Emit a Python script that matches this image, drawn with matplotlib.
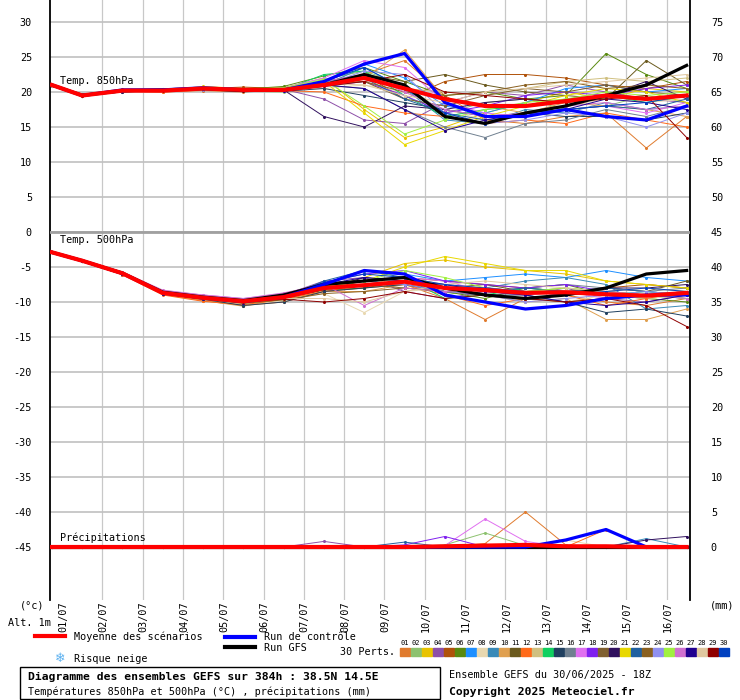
import matplotlib
matplotlib.use("Agg")
import matplotlib.pyplot as plt
from matplotlib.patches import Rectangle

# time axis in days since 01/07 00Z (first point 30/06 18Z)
times = [-0.25, 0.5, 1.5, 2.5, 3.5, 4.5, 5.5, 6.5, 7.5, 8.5, 9.5, 10.5, 11.5, 12.5, 13.5, 14.5, 15.5]
dates = ["01/07", "02/07", "03/07", "04/07", "05/07", "06/07", "07/07", "08/07",
         "09/07", "10/07", "11/07", "12/07", "13/07", "14/07", "15/07", "16/07"]

mean_850 = [21, 19.5, 20.2, 20.2, 20.5, 20.3, 20.3, 21, 22, 20.5, 19, 18, 18, 18.7, 19.5, 19, 19.5]
ctrl_850 = [21, 19.5, 20.3, 20.3, 20.6, 20.3, 20.3, 21.5, 24, 25.5, 18.5, 16.5, 16.5, 17.5, 16.5, 16, 18]
gfs_850 = [21, 19.5, 20.2, 20.3, 20.5, 20.2, 20.3, 21, 22.5, 21, 16.5, 15.5, 17, 18, 19.5, 21, 23.8]

mean_500 = [-2.9, -4.1, -5.9, -8.7, -9.4, -9.9, -9.3, -8.0, -7.6, -7.1, -8.0, -8.3, -8.7, -8.6, -8.9, -9.1, -8.7]
ctrl_500 = [-2.9, -4.1, -5.9, -8.7, -9.4, -9.9, -9.3, -7.5, -5.5, -6.0, -9.0, -10.0, -11.0, -10.5, -9.5, -9.0, -9.0]
gfs_500 = [-2.9, -4.1, -5.9, -8.6, -9.3, -9.8, -9.0, -7.5, -7.0, -6.5, -8.0, -9.0, -9.5, -9.0, -8.0, -6.0, -5.5]

mean_pr = [0, 0, 0, 0, 0, 0, 0, 0, 0, 0, 0.1, 0.2, 0.3, 0.1, 0.1, 0, 0]
ctrl_pr = [0, 0, 0, 0, 0, 0, 0, 0, 0, 0, 0, 0, 0, 1.0, 2.5, 0, 0]
gfs_pr = [0] * 17

members_850 = [
    [21.0, 19.6, 20.1, 20.0, 20.2, 20.0, 20.5, 21.2, 22.5, 24.5, 19.5, 16.0, 15.5, 16.5, 17.0, 12.0, 16.5],
    [21.0, 19.4, 20.3, 20.4, 20.6, 20.1, 20.0, 21.8, 23.0, 21.0, 17.0, 18.5, 19.0, 17.5, 18.0, 19.5, 18.5],
    [21.0, 19.7, 20.0, 20.2, 20.8, 20.5, 20.6, 22.0, 17.5, 13.5, 15.0, 17.0, 18.5, 20.0, 19.0, 20.5, 20.0],
    [20.9, 19.5, 20.2, 20.1, 20.4, 20.2, 20.4, 19.0, 16.0, 15.5, 18.5, 20.0, 19.5, 21.0, 20.0, 19.0, 18.5],
    [21.0, 19.6, 20.4, 20.3, 20.5, 20.7, 20.5, 21.0, 22.5, 19.0, 21.5, 22.5, 22.5, 22.0, 21.0, 20.5, 21.5],
    [21.0, 19.5, 20.1, 20.3, 20.6, 20.4, 20.8, 22.3, 23.5, 21.5, 19.5, 20.0, 19.0, 19.5, 25.5, 22.5, 20.5],
    [21.0, 19.4, 20.2, 20.2, 20.3, 20.1, 20.2, 21.5, 24.0, 22.0, 18.0, 17.0, 18.5, 20.5, 21.0, 20.0, 20.5],
    [21.0, 19.6, 20.3, 20.1, 20.4, 20.5, 20.4, 20.5, 21.0, 20.0, 17.5, 16.0, 17.0, 18.0, 19.0, 18.5, 19.0],
    [20.9, 19.5, 20.0, 20.2, 20.6, 20.3, 20.1, 21.0, 23.5, 20.5, 16.0, 15.5, 17.5, 17.0, 18.5, 17.5, 18.0],
    [21.0, 19.7, 20.2, 20.3, 20.5, 20.2, 20.3, 21.3, 22.0, 26.0, 19.0, 18.0, 17.0, 18.5, 18.0, 17.5, 16.5],
    [21.0, 19.5, 20.3, 20.4, 20.4, 20.2, 20.6, 21.5, 22.5, 21.5, 22.5, 21.0, 20.0, 19.5, 19.0, 24.5, 21.0],
    [21.0, 19.6, 20.1, 20.0, 20.3, 20.4, 20.2, 20.0, 18.0, 17.0, 16.5, 15.5, 16.0, 15.5, 17.0, 16.0, 15.0],
    [21.0, 19.5, 20.2, 20.3, 20.5, 20.3, 20.5, 21.0, 22.0, 20.5, 20.0, 19.5, 20.5, 21.5, 22.0, 21.5, 22.0],
    [21.0, 19.4, 20.2, 20.2, 20.6, 20.2, 20.3, 22.5, 23.0, 19.5, 16.5, 17.5, 18.0, 19.0, 19.5, 18.5, 19.5],
    [20.9, 19.6, 20.3, 20.2, 20.4, 20.3, 20.1, 20.5, 19.5, 18.5, 17.5, 16.5, 17.0, 16.5, 16.5, 16.0, 17.0],
    [21.0, 19.5, 20.1, 20.3, 20.5, 20.4, 20.3, 21.0, 20.5, 17.5, 15.0, 13.5, 15.5, 16.0, 17.5, 16.5, 18.0],
    [21.0, 19.6, 20.2, 20.2, 20.4, 20.2, 20.6, 22.0, 24.5, 23.5, 18.5, 17.0, 16.5, 17.5, 18.0, 17.0, 18.5],
    [21.0, 19.5, 20.3, 20.1, 20.5, 20.3, 20.2, 20.8, 21.5, 19.5, 17.0, 18.0, 19.5, 20.0, 19.5, 20.5, 21.0],
    [21.0, 19.7, 20.2, 20.3, 20.3, 20.5, 20.4, 21.2, 21.5, 19.0, 18.0, 19.5, 20.5, 20.0, 21.0, 20.0, 19.5],
    [21.0, 19.5, 20.0, 20.2, 20.5, 20.3, 20.3, 16.5, 15.0, 18.0, 17.5, 18.5, 19.0, 18.5, 19.5, 21.5, 19.0],
    [21.0, 19.6, 20.3, 20.2, 20.6, 20.2, 20.5, 21.5, 17.0, 12.5, 14.5, 16.5, 18.0, 19.5, 20.5, 20.0, 18.5],
    [20.9, 19.5, 20.2, 20.3, 20.4, 20.4, 20.4, 21.5, 22.0, 19.0, 17.0, 16.0, 16.5, 17.5, 18.0, 17.5, 19.0],
    [21.0, 19.4, 20.1, 20.2, 20.5, 20.1, 20.3, 21.0, 21.5, 20.0, 19.5, 20.0, 21.0, 21.5, 20.5, 21.0, 20.5],
    [21.0, 19.6, 20.2, 20.4, 20.3, 20.3, 20.2, 21.0, 23.0, 22.5, 17.0, 15.5, 16.0, 17.0, 16.5, 15.0, 17.0],
    [21.0, 19.5, 20.3, 20.2, 20.5, 20.4, 20.6, 21.8, 18.0, 14.0, 16.0, 17.5, 18.5, 19.0, 20.0, 19.5, 20.0],
    [21.0, 19.5, 20.1, 20.2, 20.6, 20.2, 20.4, 21.5, 22.5, 20.0, 17.5, 16.5, 17.0, 18.0, 18.5, 17.5, 18.0],
    [21.0, 19.6, 20.2, 20.3, 20.4, 20.3, 20.1, 21.0, 20.5, 17.5, 14.5, 16.0, 17.0, 17.5, 19.0, 18.5, 17.5],
    [20.9, 19.5, 20.3, 20.2, 20.5, 20.5, 20.3, 21.2, 21.0, 19.5, 18.5, 20.0, 20.5, 21.0, 21.5, 22.0, 22.5],
    [21.0, 19.5, 20.2, 20.1, 20.5, 20.2, 20.4, 20.8, 21.5, 22.5, 20.0, 19.5, 19.0, 18.5, 19.0, 19.5, 13.5],
    [21.0, 19.6, 20.2, 20.3, 20.4, 20.3, 20.3, 21.5, 23.5, 20.5, 17.0, 15.5, 17.0, 17.5, 18.0, 18.5, 19.5],
]

members_500 = [
    [-2.9, -4.2, -6.0, -8.9, -9.8, -10.5, -10.0, -8.5, -8.0, -7.5, -9.5, -12.5, -9.5, -9.0, -10.0, -10.5, -9.5],
    [-2.9, -4.0, -5.8, -8.5, -9.3, -9.8, -9.0, -7.5, -7.0, -6.5, -9.0, -8.0, -8.5, -8.0, -9.0, -9.5, -9.0],
    [-2.9, -4.1, -5.7, -8.4, -9.2, -9.6, -9.5, -8.0, -6.5, -4.5, -4.0, -5.0, -5.5, -6.0, -7.0, -7.5, -8.0],
    [-2.9, -4.2, -6.1, -8.8, -9.5, -10.2, -9.0, -7.0, -6.5, -8.5, -9.5, -8.5, -9.0, -8.0, -9.5, -10.0, -9.0],
    [-2.9, -4.1, -5.9, -8.6, -9.3, -9.7, -9.4, -8.2, -7.0, -6.5, -7.0, -7.5, -8.0, -8.5, -8.0, -7.5, -8.0],
    [-2.9, -4.0, -5.8, -8.7, -9.4, -10.0, -9.6, -8.3, -8.0, -7.0, -8.5, -9.5, -8.0, -7.5, -9.0, -9.5, -10.0],
    [-2.9, -4.1, -6.0, -8.7, -9.5, -9.9, -9.2, -7.5, -5.5, -6.0, -7.0, -6.5, -6.0, -6.5, -5.5, -6.5, -7.0],
    [-2.9, -4.2, -5.9, -8.8, -9.6, -10.3, -9.8, -8.8, -11.5, -8.5, -8.0, -9.0, -9.5, -10.0, -9.0, -9.5, -9.0],
    [-2.9, -4.1, -5.8, -8.6, -9.4, -10.0, -9.3, -7.8, -7.0, -7.5, -8.5, -8.0, -7.0, -6.5, -7.5, -11.0, -10.5],
    [-2.9, -4.1, -6.0, -8.9, -9.8, -10.6, -9.5, -8.5, -8.5, -7.5, -8.0, -9.0, -10.0, -9.5, -12.5, -12.5, -11.0],
    [-2.9, -4.0, -5.9, -8.6, -9.3, -9.8, -9.4, -8.0, -7.5, -7.0, -8.0, -7.5, -8.5, -9.0, -8.0, -8.5, -7.0],
    [-2.9, -4.2, -6.1, -9.0, -9.9, -10.4, -9.6, -8.5, -7.5, -7.5, -9.0, -10.5, -9.5, -9.0, -10.5, -9.5, -8.5],
    [-2.9, -4.1, -5.8, -8.7, -9.4, -9.9, -9.2, -8.0, -7.5, -6.5, -7.5, -8.0, -8.5, -8.0, -8.5, -8.0, -8.5],
    [-2.9, -4.0, -5.7, -8.5, -9.2, -9.7, -9.0, -7.8, -7.0, -6.5, -9.5, -9.0, -8.0, -8.5, -9.0, -8.5, -9.0],
    [-2.9, -4.1, -6.0, -8.8, -9.6, -10.5, -10.0, -8.5, -8.0, -7.5, -8.5, -9.0, -9.0, -10.0, -11.5, -11.0, -12.0],
    [-2.9, -4.2, -5.9, -8.7, -9.5, -10.0, -9.4, -8.0, -7.5, -7.0, -7.5, -8.5, -8.0, -7.5, -8.0, -8.5, -8.0],
    [-2.9, -4.1, -5.8, -8.4, -9.0, -9.5, -8.8, -7.5, -7.0, -6.5, -7.0, -8.5, -9.0, -8.5, -9.5, -9.0, -9.5],
    [-2.9, -4.0, -5.9, -8.6, -9.3, -9.8, -9.0, -7.2, -6.0, -5.5, -7.0, -7.5, -8.0, -7.5, -8.5, -9.0, -8.5],
    [-2.9, -4.1, -5.9, -8.7, -9.4, -9.9, -9.3, -8.0, -7.5, -8.0, -8.5, -9.0, -9.5, -9.0, -8.5, -9.0, -8.5],
    [-2.9, -4.2, -6.0, -8.8, -9.6, -10.1, -9.5, -8.2, -6.5, -7.0, -8.0, -8.0, -8.5, -9.0, -8.0, -8.0, -7.5],
    [-2.9, -4.0, -5.8, -8.5, -9.3, -9.8, -9.3, -7.8, -7.0, -5.0, -3.5, -4.5, -5.5, -5.5, -7.0, -7.5, -8.0],
    [-2.9, -4.1, -5.9, -8.7, -9.5, -10.0, -9.4, -7.0, -5.5, -6.5, -8.0, -8.5, -8.0, -8.5, -8.0, -8.5, -9.0],
    [-2.9, -4.1, -6.0, -8.8, -9.6, -10.2, -9.7, -8.8, -8.5, -8.0, -8.5, -9.0, -9.5, -10.0, -9.5, -9.0, -9.5],
    [-2.9, -4.1, -5.8, -8.6, -9.3, -9.8, -9.0, -7.5, -7.0, -7.5, -8.5, -9.0, -10.0, -9.5, -9.0, -8.5, -9.0],
    [-2.9, -4.0, -5.9, -8.6, -9.3, -9.9, -9.3, -7.8, -7.0, -5.5, -6.5, -8.0, -8.5, -8.0, -8.5, -9.0, -9.5],
    [-2.9, -4.1, -5.7, -8.3, -9.0, -9.5, -8.7, -7.5, -10.5, -8.0, -8.5, -8.0, -8.5, -9.0, -8.5, -9.0, -9.5],
    [-2.9, -4.2, -6.0, -8.8, -9.5, -10.1, -9.4, -7.5, -6.5, -7.0, -7.5, -8.5, -9.0, -10.0, -10.5, -10.0, -9.0],
    [-2.9, -4.1, -5.9, -8.7, -9.4, -10.0, -9.5, -9.5, -10.0, -8.5, -7.5, -7.0, -7.5, -8.0, -8.5, -8.0, -8.5],
    [-2.9, -4.0, -5.8, -8.6, -9.4, -10.0, -9.6, -10.0, -9.5, -8.5, -9.5, -9.0, -9.5, -10.0, -9.5, -10.5, -13.5],
    [-2.9, -4.1, -5.9, -8.7, -9.4, -9.9, -9.2, -7.2, -6.0, -6.5, -7.5, -8.0, -8.5, -9.0, -8.5, -8.0, -8.5],
]

# precipitation (mm), only the members that show some rain
precip_members = {
    1: [0, 0, 0, 0, 0, 0, 0, 0, 0, 0, 0, 0.5, 5.0, 0.3, 0, 0, 0],
    2: [0, 0, 0, 0, 0, 0, 0, 0, 0, 0, 0.3, 2.0, 0.2, 0, 0, 0, 0],
    4: [0, 0, 0, 0, 0, 0, 0, 0.8, 0, 0, 0, 0, 0, 0, 0, 0, 0],
    8: [0, 0, 0, 0, 0, 0, 0, 0, 0, 0, 0, 0, 0, 1.0, 0, 0, 0],
    9: [0, 0, 0, 0, 0, 0, 0, 0, 0, 0, 0, 0, 0, 0, 0, 1.2, 0],
    12: [0, 0, 0, 0, 0, 0, 0, 0, 0, 0, 0, 0, 0, 0, 2.5, 0, 0],
    17: [0, 0, 0, 0, 0, 0, 0, 0, 0, 0, 0.2, 4.0, 0.8, 0, 0, 0, 0],
    18: [0, 0, 0, 0, 0, 0, 0, 0, 0, 0.3, 1.5, 0, 0, 0, 0, 0, 0],
    20: [0, 0, 0, 0, 0, 0, 0, 0, 0, 0, 0, 0, 0, 0, 0, 1.0, 1.5],
    22: [0, 0, 0, 0, 0, 0, 0, 0, 0, 0.7, 0, 0, 0, 0, 0, 0, 0],
}

member_colors = ["#e07b2e", "#8dc26f", "#e8c300", "#8d4fa8", "#b0520a", "#5a8a10",
                 "#1e8fff", "#e8d8b0", "#3a8ab8", "#e0a050", "#6b5a1e", "#ff6a1a",
                 "#d0c080", "#10d060", "#204060", "#708090", "#e070f0", "#8020f0",
                 "#806030", "#30105e", "#e8d800", "#2060a0", "#8a6020", "#9090f0",
                 "#a0f040", "#d070d0", "#200090", "#e0c8a0", "#900000", "#0040c0"]

PR0 = -45  # precip baseline on the left scale
mono = "DejaVu Sans Mono"
fs = 7.3

fig = plt.figure(figsize=(7.4, 7.0), dpi=100)
W, H = 740.0, 700.0


def px(x, y):
    return x / W, 1 - y / H


ax = fig.add_axes([50 / W, 100 / H, 640 / W, 600 / H])
day_px = 40.3
x0 = -12 / day_px
ax.set_xlim(x0, x0 + 640 / day_px)
ylo = 0 - (600 - 232) / 7.0
yhi = 232 / 7.0
ax.set_ylim(ylo, yhi)

# grid
for d in range(1, 16):
    ax.axvline(d, color="#c8c8c8", lw=0.9, zorder=0)
for v in range(30, -45, -5):
    ax.axhline(v, color="#c0c0c0", lw=1.2, zorder=0)
ax.axhline(0, color="#a0a0a0", lw=2, zorder=5)

for i in range(30):
    c = member_colors[i]
    ax.plot(times, members_850[i], color=c, lw=0.7, marker="o", ms=1.2, zorder=2)
    ax.plot(times, members_500[i], color=c, lw=0.7, marker="o", ms=1.2, zorder=2)
for k, vals in precip_members.items():
    ax.plot(times, [PR0 + v for v in vals], color=member_colors[k - 1], lw=0.7,
            marker="o", ms=1.2, zorder=2)

for series, col, lw, z in [(gfs_850, "black", 2.3, 3), (ctrl_850, "blue", 2.3, 4), (mean_850, "red", 3, 6),
                           (gfs_500, "black", 2.3, 3), (ctrl_500, "blue", 2.3, 4), (mean_500, "red", 3, 6)]:
    ax.plot(times, series, color=col, lw=lw, zorder=z)
ax.plot(times, [PR0 + v for v in gfs_pr], color="black", lw=2.3, zorder=3)
ax.plot(times, [PR0 + v for v in ctrl_pr], color="blue", lw=2.3, zorder=4)
ax.plot(times, [PR0 + v for v in mean_pr], color="red", lw=3, zorder=6)

# axes styling
for s in ["top", "bottom"]:
    ax.spines[s].set_visible(False)
ax.spines["left"].set_linewidth(1.3)
ax.spines["right"].set_linewidth(1.3)
ax.set_xticks([])
left_ticks = list(range(30, -50, -5))
ax.set_yticks(left_ticks)
ax.set_yticklabels([str(v) for v in left_ticks], fontsize=fs, family=mono)
ax.tick_params(axis="y", length=0, pad=13)
sec = ax.secondary_yaxis("right", functions=(lambda v: v + 45, lambda v: v - 45))
sec.set_yticks(list(range(75, -5, -5)))
sec.set_yticklabels([str(v) for v in range(75, -5, -5)], fontsize=fs, family=mono)
sec.tick_params(length=0, pad=15)
sec.spines["right"].set_visible(False)

ax.text(x0 + 10 / day_px, 20.8, "Temp. 850hPa", fontsize=fs, family=mono, va="bottom")
ax.text(x0 + 10 / day_px, -1.8, "Temp. 500hPa", fontsize=fs, family=mono, va="bottom")
ax.text(x0 + 10 / day_px, -44.4, "Précipitations", fontsize=fs, family=mono, va="bottom")

# date labels
for d, lab in enumerate(dates):
    fig.text(*px(63 + d * day_px, 601), lab, rotation=90, fontsize=fs, family=mono,
             ha="center", va="top")
fig.text(*px(20, 606), "(°c)", fontsize=fs, family=mono, ha="left", va="center")
fig.text(*px(710, 606), "(mm)", fontsize=fs, family=mono, ha="left", va="center")
fig.text(*px(8, 623), "Alt. 1m", fontsize=fs, family=mono, ha="left", va="center")

# legend
fig.add_artist(plt.Line2D([35 / W, 65 / W], [1 - 636 / H] * 2, color="red", lw=3))
fig.text(*px(74, 637), "Moyenne des scénarios", fontsize=fs, family=mono, va="center")
fig.add_artist(plt.Line2D([225 / W, 255 / W], [1 - 637 / H] * 2, color="blue", lw=3))
fig.text(*px(264, 637), "Run de contrôle", fontsize=fs, family=mono, va="center")
fig.add_artist(plt.Line2D([225 / W, 255 / W], [1 - 647 / H] * 2, color="black", lw=3))
fig.text(*px(264, 648), "Run GFS", fontsize=fs, family=mono, va="center")
fig.text(*px(60, 659), "\u2744", fontsize=9, color="#5ab0f0", ha="center", va="center",
         family="DejaVu Sans")
fig.text(*px(74, 659), "Risque neige", fontsize=fs, family=mono, va="center")
fig.text(*px(340, 652), "30 Perts.", fontsize=fs, family=mono, va="center")
for i, c in enumerate(member_colors):
    xl = 400 + i * 11
    fig.text(*px(xl + 5, 643), "%02d" % (i + 1), fontsize=5, family=mono,
             ha="center", va="center")
    fig.add_artist(Rectangle(px(xl, 656), 10 / W, 8 / H, color=c, transform=fig.transFigure))

# title box
fig.add_artist(Rectangle(px(20, 699), 420 / W, 32 / H, fill=False, ec="black", lw=1,
                         transform=fig.transFigure))
fig.text(*px(28, 677), "Diagramme des ensembles GEFS sur 384h : 38.5N 14.5E",
         fontsize=8.2, family=mono, weight="bold", va="center")
fig.text(*px(28, 692), "Températures 850hPa et 500hPa (°C) , précipitations (mm)",
         fontsize=fs, family=mono, va="center")
fig.text(*px(449, 675), "Ensemble GEFS du 30/06/2025 - 18Z", fontsize=fs, family=mono, va="center")
fig.text(*px(449, 692), "Copyright 2025 Meteociel.fr", fontsize=8.2, family=mono,
         weight="bold", va="center")

fig.savefig("out.png", dpi=100)
